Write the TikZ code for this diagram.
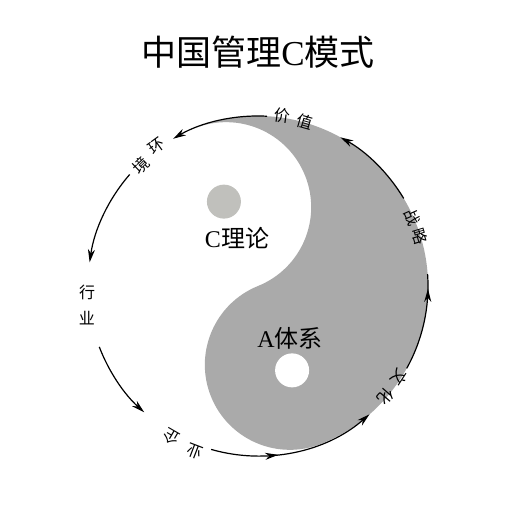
\documentclass[tikz,border=0pt]{standalone}
\usepackage{fontspec}
\setmainfont{Liberation Serif}
\newfontfamily\cjk{Noto Sans CJK SC}
\usetikzlibrary{arrows,arrows.meta,decorations.markings,positioning}

\definecolor{yanggray}{RGB}{170,170,170}
\definecolor{spotgray}{RGB}{192,192,188}

\begin{document}
\begin{tikzpicture}[x=1pt,y=1pt,>={Stealth[length=13pt,width=7pt,inset=4pt]}]
    \tikzstyle{ring}=[line width=1.2pt]
    \tikzstyle{lbl}=[inner sep=0pt,font=\cjk\fontsize{16}{16}\selectfont]
    \tikzstyle{big}=[inner sep=0pt,font=\fontsize{24}{24}\selectfont]
    \tikzstyle{spot}=[circle,minimum size=34pt,inner sep=0pt]
    \tikzstyle{midtip}=[postaction={decorate},decoration={markings,mark=at position #1 with {\arrow{>}}}]

    \useasboundingbox (0,0) rectangle (512,530);
    \coordinate (ctr) at (258,244);

    \node[inner sep=0pt,font=\fontsize{35}{35}\selectfont] (title) at (258,478) {{\cjk 中国管理}C{\cjk 模式}};

    % taiji
    \begin{scope}[shift={(ctr)},rotate=22]
      \fill[yanggray] (0,170) arc[start angle=90,end angle=-90,radius=170]
                      arc[start angle=-90,end angle=-270,radius=85]
                      arc[start angle=-90,end angle=90,radius=85] -- cycle;
      \node[spot,fill=spotgray] (cspot) at (0,91) {};
      \node[spot,fill=white] (aspot) at (0,-91) {};
    \end{scope}

    \node[big] (ctheory) at (237,292) {C{\cjk 理论}};
    \node[big] (asystem) at (290,192) {A{\cjk 体系}};

    % labels round the ring
    \begin{scope}[shift={(ctr)}]
      \node[lbl,rotate=-8] (jia) at (82:172) {价};
      \node[lbl,rotate=-16] (zhi) at (74:171) {值};
      \node[lbl,rotate=36] (huan) at (126:173) {环};
      \node[lbl,rotate=44] (jing) at (134:168) {境};
      \node[lbl] (hang) at (182:171) {行};
      \node[lbl] (ye) at (190.5:174) {业};
      \node[lbl,rotate=150] (qi) at (240:174) {企};
      \node[lbl,rotate=159] (yb) at (249:177) {业};
      \node[lbl,rotate=-123] (wen) at (327:169) {文};
      \node[lbl,rotate=-131] (hua) at (319:169) {化};
      \node[lbl,rotate=-66] (zhan) at (24:169) {战};
      \node[lbl,rotate=-73] (lue) at (17:169) {略};

      \coordinate (a1) at (87:170);
      \coordinate (a2) at (139:170);
      \coordinate (a3) at (201:170);
      \coordinate (a4) at (254:170);
      \coordinate (a5) at (331:170);
      \coordinate (a6) at (31:170);
    \end{scope}

    \draw[ring,->] (a1) arc[start angle=87,end angle=120,radius=170];
    \draw[ring,->] (a2) arc[start angle=139,end angle=172,radius=170];
    \draw[ring,->] (a3) arc[start angle=201,end angle=228,radius=170];
    \draw[ring,midtip=0.4,->] (a4) arc[start angle=254,end angle=311,radius=170];
    \draw[ring,midtip=0.85] (a5) arc[start angle=331,end angle=364,radius=170];
    \draw[ring,->] (a6) arc[start angle=31,end angle=61,radius=170];
\end{tikzpicture}
\end{document}
